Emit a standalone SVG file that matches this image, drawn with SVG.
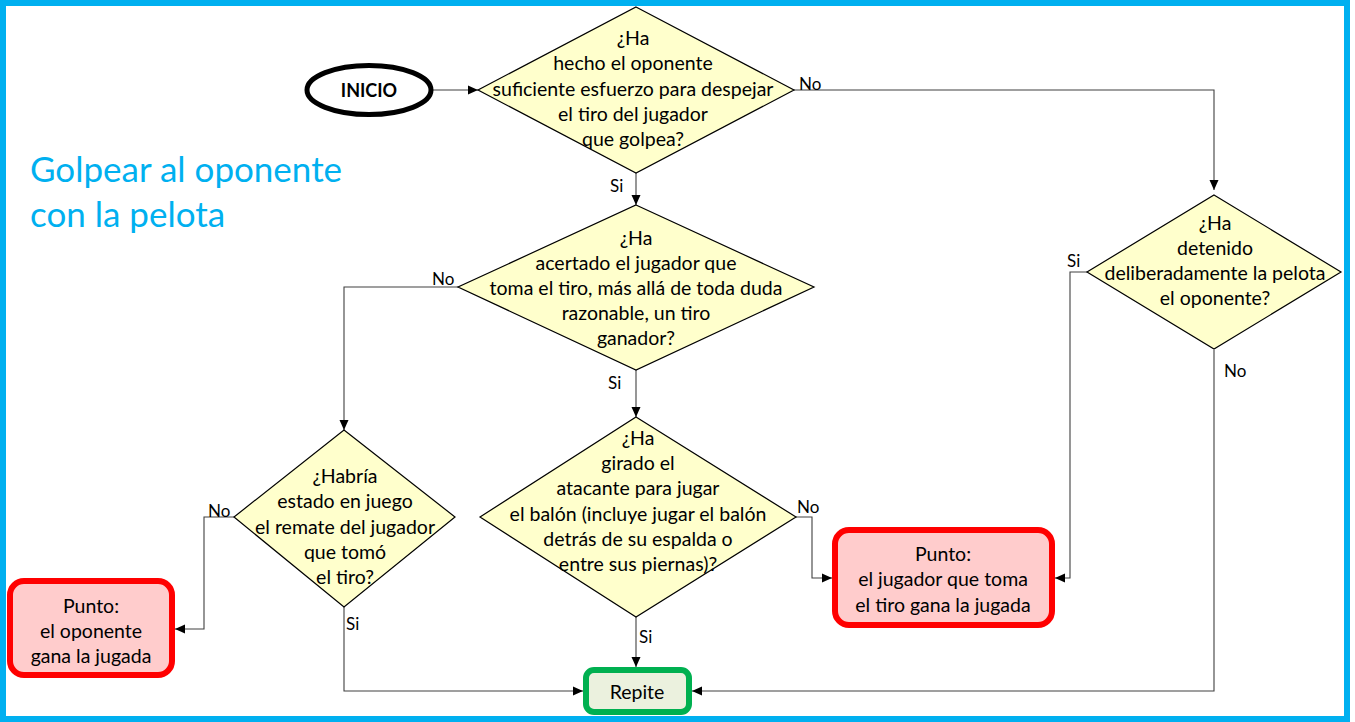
<svg xmlns="http://www.w3.org/2000/svg" width="1355" height="722" viewBox="0 0 1355 722">
<defs>
<marker id="arr" markerWidth="10" markerHeight="10" refX="10" refY="5" orient="auto" markerUnits="userSpaceOnUse">
<path d="M0,0.5 L10,5 L0,9.5 Z" fill="#000"/>
</marker>
<style>
.t{font-family:Lato,"Open Sans",sans-serif;font-size:19.5px;fill:#000;text-anchor:middle;dominant-baseline:central}
.lb{font-family:Lato,"Open Sans",sans-serif;font-size:17px;fill:#000;dominant-baseline:central}
.dia{fill:#FFFFCC;stroke:#000;stroke-width:1.2}
.red{fill:#FFCCCC;stroke:#FF0000;stroke-width:6}
.grn{fill:#EBF1DE;stroke:#00B050;stroke-width:6}
.c{fill:none;stroke:#404040;stroke-width:1.1}
</style>
</defs>
<rect width="1355" height="722" fill="#fff"/>
<rect x="3" y="3" width="1344" height="716" fill="none" stroke="#00B0F0" stroke-width="6"/>
<g id="title">
<text x="30" y="168" font-family="Lato,'Open Sans',sans-serif" font-size="35" fill="#00B0F0" dominant-baseline="central">Golpear al oponente</text>
<text x="30" y="213" font-family="Lato,'Open Sans',sans-serif" font-size="35" fill="#00B0F0" dominant-baseline="central">con la pelota</text>
</g>
<g id="connectors">
<path class="c" d="M433,90 H478" marker-end="url(#arr)"/>
<path class="c" d="M794,90 H1214 V190" marker-end="url(#arr)"/>
<path class="c" d="M636,173 V205" marker-end="url(#arr)"/>
<path class="c" d="M458,287 H344 V430" marker-end="url(#arr)"/>
<path class="c" d="M636,370 V417" marker-end="url(#arr)"/>
<path class="c" d="M796,517 H812 V578 H832" marker-end="url(#arr)"/>
<path class="c" d="M636,617 V667" marker-end="url(#arr)"/>
<path class="c" d="M234,517 H204 V629 H175" marker-end="url(#arr)"/>
<path class="c" d="M344,607 V691 H583" marker-end="url(#arr)"/>
<path class="c" d="M1087,272 H1070 V578 H1055" marker-end="url(#arr)"/>
<path class="c" d="M1214,350 V691 H692" marker-end="url(#arr)"/>
<text class="lb" x="799" y="83">No</text>
<text class="lb" x="610" y="185">Si</text>
<text class="lb" x="432" y="278">No</text>
<text class="lb" x="608" y="382">Si</text>
<text class="lb" x="797" y="506">No</text>
<text class="lb" x="639" y="636">Si</text>
<text class="lb" x="208" y="510">No</text>
<text class="lb" x="346" y="623">Si</text>
<text class="lb" x="1067" y="260">Si</text>
<text class="lb" x="1224" y="370">No</text>
</g>
<g id="inicio">
<ellipse cx="369" cy="90" rx="62" ry="24.5" fill="#fff" stroke="#000" stroke-width="5"/>
<text class="t" x="369" y="90" font-weight="bold" style="font-size:18px">INICIO</text>
</g>
<g id="d1">
<polygon class="dia" points="636,7 794,90 636,173 478,90"/>
<text class="t"><tspan x="633" y="37">¿Ha</tspan><tspan x="633" y="62">hecho el oponente</tspan><tspan x="633" y="88">suficiente esfuerzo para despejar</tspan><tspan x="633" y="113">el tiro del jugador</tspan><tspan x="633" y="138">que golpea?</tspan></text>
</g>
<g id="d2">
<polygon class="dia" points="636,205 814,287 636,370 458,287"/>
<text class="t"><tspan x="636" y="237">¿Ha</tspan><tspan x="636" y="262">acertado el jugador que</tspan><tspan x="636" y="287">toma el tiro, más allá de toda duda</tspan><tspan x="636" y="312">razonable, un tiro</tspan><tspan x="636" y="337">ganador?</tspan></text>
</g>
<g id="d3">
<polygon class="dia" points="636,417 796,517 636,617 480,517"/>
<text class="t"><tspan x="638" y="437">¿Ha</tspan><tspan x="638" y="462">girado el</tspan><tspan x="638" y="487">atacante para jugar</tspan><tspan x="638" y="513">el balón (incluye jugar el balón</tspan><tspan x="638" y="538">detrás de su espalda o</tspan><tspan x="638" y="563">entre sus piernas)?</tspan></text>
</g>
<g id="d4">
<polygon class="dia" points="344,430 455,517 344,607 234,517"/>
<text class="t"><tspan x="345" y="475">¿Habría</tspan><tspan x="345" y="500">estado en juego</tspan><tspan x="345" y="526">el remate del jugador</tspan><tspan x="345" y="551">que tomó</tspan><tspan x="345" y="576">el tiro?</tspan></text>
</g>
<g id="d5">
<polygon class="dia" points="1214,195 1341,272 1214,349 1087,272"/>
<text class="t"><tspan x="1215" y="222">¿Ha</tspan><tspan x="1215" y="247">detenido</tspan><tspan x="1215" y="272">deliberadamente la pelota</tspan><tspan x="1215" y="297">el oponente?</tspan></text>
</g>
<g id="punto-oponente">
<rect class="red" x="10" y="581" width="162" height="94" rx="14"/>
<text class="t"><tspan x="91" y="605">Punto:</tspan><tspan x="91" y="630">el oponente</tspan><tspan x="91" y="655">gana la jugada</tspan></text>
</g>
<g id="punto-jugador">
<rect class="red" x="835" y="530" width="217" height="95" rx="14"/>
<text class="t"><tspan x="943" y="553">Punto:</tspan><tspan x="943" y="578">el jugador que toma</tspan><tspan x="943" y="604">el tiro gana la jugada</tspan></text>
</g>
<g id="repite">
<rect class="grn" x="586" y="670" width="103" height="42" rx="8"/>
<text class="t" x="637" y="691">Repite</text>
</g>
</svg>
